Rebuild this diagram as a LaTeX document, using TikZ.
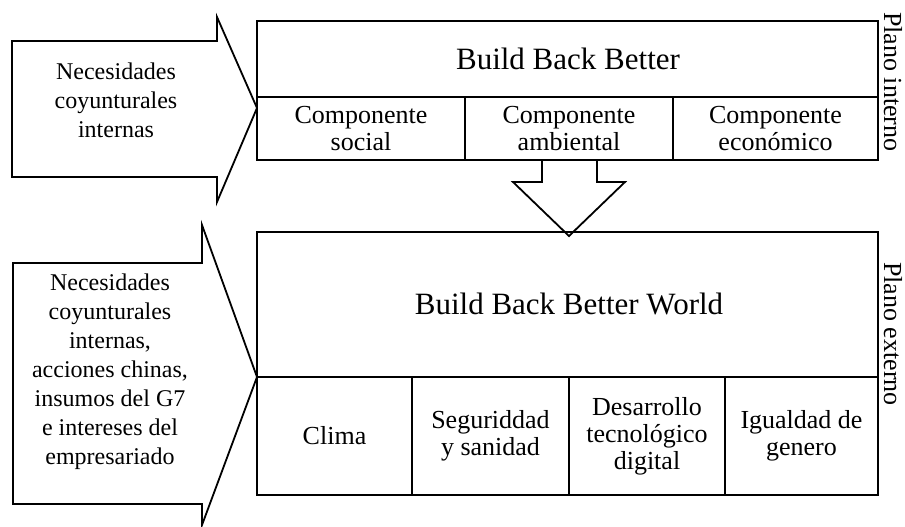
\documentclass[tikz,border=0pt]{standalone}
\usepackage{fontspec}
\setmainfont{Liberation Serif}
\begin{document}
\begin{tikzpicture}[x=1pt,y=-1pt,
  frame/.style={draw=black,line width=1.8pt,line join=miter},
  arrowshape/.style={draw=black,line width=1.8pt,line join=miter,fill=white},
  title/.style={font=\fontsize{31}{36}\selectfont,align=center,inner sep=0pt},
  cell/.style={font=\fontsize{26}{27}\selectfont,align=center,inner sep=0pt},
  side/.style={font=\fontsize{24}{29}\selectfont,align=center,inner sep=0pt},
  plane/.style={font=\fontsize{26}{30}\selectfont,inner sep=0pt,rotate=-90}]
\useasboundingbox (0,0) rectangle (905,527);
% left arrows
\draw[arrowshape] (12,41) -- (217,41) -- (217,17) -- (257,108) -- (217,202) -- (217,177) -- (12,177) -- cycle;
\draw[arrowshape] (13,263) -- (202,263) -- (202,225) -- (257,377) -- (202,525) -- (202,504) -- (13,504) -- cycle;
% down arrow
\draw[arrowshape] (542,160) -- (542,182) -- (513,182) -- (569,236) -- (625,182) -- (597,182) -- (597,160) -- cycle;
% top box
\draw[frame] (257,21) rectangle (878,160);
\draw[frame] (257,97) -- (878,97);
\draw[frame] (465,97) -- (465,160);
\draw[frame] (673,97) -- (673,160);
% bottom box
\draw[frame] (257,232) rectangle (878,495);
\draw[frame] (257,377) -- (878,377);
\draw[frame] (412,377) -- (412,495);
\draw[frame] (569,377) -- (569,495);
\draw[frame] (725,377) -- (725,495);
% texts
\node[side] (in1) at (116,100) {Necesidades\\coyunturales\\internas};
\node[side] (in2) at (110,372) {Necesidades\\coyunturales\\internas,\\acciones chinas,\\insumos del G7\\e intereses del\\empresariado};
\node[title] (bbb) at (568,59) {Build Back Better};
\node[cell] (c1) at (361,128.5) {Componente\\social};
\node[cell] (c2) at (569,128.5) {Componente\\ambiental};
\node[cell] (c3) at (775.5,128.5) {Componente\\económico};
\node[title] (bbbw) at (569,304) {Build Back Better World};
\node[cell] (d1) at (334.5,436) {Clima};
\node[cell] (d2) at (490.5,436) {Seguriddad\\y sanidad};
\node[cell] (d3) at (647,436) {Desarrollo\\tecnológico\\digital};
\node[cell] (d4) at (801.5,436) {Igualdad de\\genero};
\node[plane,anchor=base west] (p1) at (884,12) {Plano interno};
\node[plane,anchor=base west] (p2) at (884,262) {Plano externo};
\end{tikzpicture}
\end{document}
